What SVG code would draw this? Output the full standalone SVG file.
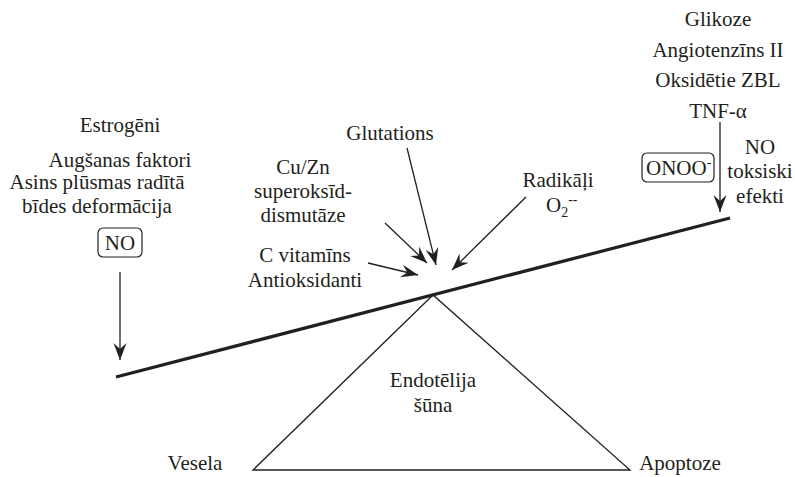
<svg xmlns="http://www.w3.org/2000/svg" width="795" height="477" viewBox="0 0 795 477">
<style>
text{font-family:"Liberation Serif","Times New Roman",serif;font-size:21px;fill:#231f20;text-anchor:middle}
.ln{stroke:#231f20;stroke-width:1.3;fill:none}
.ar{stroke:#231f20;stroke-width:1.3;fill:none;marker-end:url(#ah)}
.box{stroke:#231f20;stroke-width:1.2;fill:#fff}
.st{text-anchor:start}
</style>
<defs>
<marker id="ah" viewBox="-18 -7 19 14" refX="0" refY="0" markerWidth="19" markerHeight="14" markerUnits="userSpaceOnUse" orient="auto">
<path d="M0,0 L-17,-6.5 L-11,0 L-17,6.5 Z" fill="#231f20"/>
</marker>
</defs>
<g id="balance">
<polygon class="ln" points="433,295 253,470 630,470"/>
<line x1="116" y1="377" x2="730" y2="218" stroke="#231f20" stroke-width="3.2"/>
</g>
<g id="connectors">
<line class="ar" x1="120" y1="272" x2="120" y2="360"/>
<line class="ar" x1="720" y1="122" x2="720" y2="212"/>
<line class="ar" x1="407" y1="148" x2="436" y2="265"/>
<line class="ar" x1="385" y1="223" x2="427" y2="263"/>
<line class="ar" x1="368" y1="263" x2="418" y2="275"/>
<line class="ar" x1="526" y1="197" x2="452" y2="270"/>
</g>
<g id="left">
<text x="120" y="132">Estrogēni</text>
<text x="120" y="167">Augšanas faktori</text>
<text x="97" y="189">Asins plūsmas radītā</text>
<text x="97" y="213">bīdes deformācija</text>
</g>
<g id="no-left">
<rect class="box" x="98" y="228" width="44" height="29" rx="5"/>
<text x="120" y="250">NO</text>
</g>
<g id="right">
<text x="718" y="26">Glikoze</text>
<text x="718" y="57">Angiotenzīns II</text>
<text x="718" y="87">Oksidētie ZBL</text>
<text x="718" y="118">TNF-α</text>
</g>
<g id="onoo">
<rect class="box" x="642" y="153" width="72" height="29" rx="5"/>
<text class="st" x="646" y="175">ONOO<tspan dy="-8" font-size="14">-</tspan></text>
</g>
<g id="no-toxic">
<text x="760" y="154">NO</text>
<text x="760" y="178">toksiski</text>
<text x="760" y="203">efekti</text>
</g>
<g id="glutations"><text x="390" y="140">Glutations</text></g>
<g id="sod">
<text x="303" y="174">Cu/Zn</text>
<text x="303" y="198">superoksīd-</text>
<text x="303" y="222">dismutāze</text>
</g>
<g id="cvit">
<text x="305" y="262">C vitamīns</text>
<text x="305" y="287">Antioksidanti</text>
</g>
<g id="radicals">
<text x="558" y="187">Radikāļi</text>
<text class="st" x="546" y="212">O<tspan dy="5" font-size="14">2</tspan><tspan dy="-13" font-size="14">--</tspan></text>
</g>
<g id="cell">
<text x="433" y="387">Endotēlija</text>
<text x="433" y="412">šūna</text>
</g>
<g id="healthy"><text x="195" y="470">Vesela</text></g>
<g id="apoptosis"><text x="680" y="470">Apoptoze</text></g>
</svg>
